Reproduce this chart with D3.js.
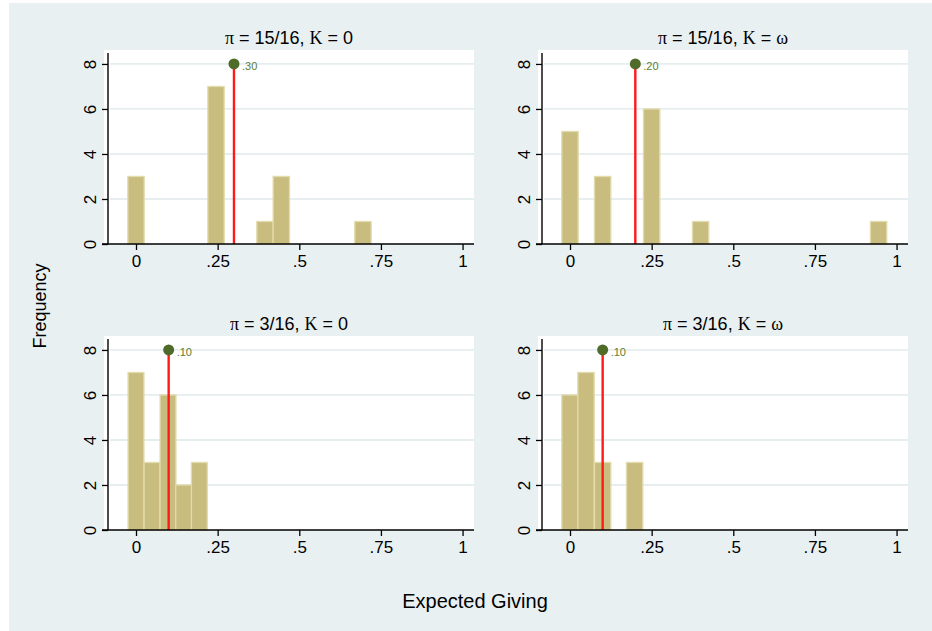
<!DOCTYPE html>
<html>
<head>
<meta charset="utf-8">
<script src="https://cdn.jsdelivr.net/npm/d3@7"></script>
<style>
  body { margin: 0; background: #fff; }
  text { font-family: "Liberation Sans", Arial, sans-serif; }
</style>
</head>
<body>
<svg id="chart"></svg>
<script>
// histogram bins (bin centres) and frequencies
const titles = [
  ["15/16", "0"],
  ["15/16", "ω"],
  ["3/16", "0"],
  ["3/16", "ω"],
];
const bins15K0 = [0, 0.245, 0.395, 0.445, 0.695];
const freq15K0 = [3, 7, 1, 3, 1];
const bins15Kw = [0, 0.1, 0.25, 0.4, 0.945];
const freq15Kw = [5, 3, 6, 1, 1];
const bins3K0 = [0, 0.049, 0.098, 0.146, 0.194];
const freq3K0 = [7, 3, 6, 2, 3];
const bins3Kw = [0, 0.049, 0.1, 0.198];
const freq3Kw = [6, 7, 3, 3];
const binWidths = [0.05, 0.05, 0.0485, 0.05];
const means = [0.3, 0.2, 0.1, 0.1];
const meanLabels = [".30", ".20", ".10", ".10"];
const xTicks = [0, 0.25, 0.5, 0.75, 1];
const xTickLabels = ["0", ".25", ".5", ".75", "1"];
const yTicks = [0, 2, 4, 6, 8];

const binsAll = [bins15K0, bins15Kw, bins3K0, bins3Kw];
const freqAll = [freq15K0, freq15Kw, freq3K0, freq3Kw];

const w = 932;
const h = 631;
const pw = 370; // white plot region
const ph = 194;
const origins = [
  [104, 50],
  [538, 50],
  [104, 336],
  [538, 336],
];

const svg = d3.select("#chart").attr("width", w).attr("height", h);

svg.append("rect").attr("x", 9).attr("y", 3).attr("width", w - 9).attr("height", h - 3)
  .attr("fill", "#e8f0f2");

origins.forEach(([px, py], i) => {
  const x = d3.scaleLinear().domain([-0.098, 1.035]).range([px, px + pw]);
  const y = d3.scaleLinear().domain([0, 8.62]).range([py + ph, py]);
  const g = svg.append("g");

  g.append("rect").attr("x", px).attr("y", py).attr("width", pw).attr("height", ph)
    .attr("fill", "#fff");

  // grid
  g.selectAll(".grid").data(yTicks.slice(1)).enter().append("line")
    .attr("x1", px + 6).attr("x2", px + pw)
    .attr("y1", (d) => y(d)).attr("y2", (d) => y(d))
    .attr("stroke", "#e6eef0").attr("stroke-width", 1.8);

  // bars
  const bw = binWidths[i];
  const data = binsAll[i].map((b, j) => ({ b: b, f: freqAll[i][j] }));
  g.selectAll(".bar").data(data).enter().append("rect")
    .attr("x", (d) => x(d.b - bw / 2))
    .attr("y", (d) => y(d.f))
    .attr("width", (d) => x(d.b + bw / 2) - x(d.b - bw / 2))
    .attr("height", (d) => y(0) - y(d.f))
    .attr("fill", "#c8bd7f")
    .attr("stroke", "#e2dbab")
    .attr("stroke-width", 1.3);

  // mean line + marker
  g.append("line")
    .attr("x1", x(means[i])).attr("x2", x(means[i]))
    .attr("y1", y(0)).attr("y2", y(8))
    .attr("stroke", "#ff1a1a").attr("stroke-width", 2.4);
  g.append("circle").attr("cx", x(means[i])).attr("cy", y(8)).attr("r", 5.5)
    .attr("fill", "#4f6b2a");
  g.append("text").attr("x", x(means[i]) + 8).attr("y", y(8) + 6)
    .attr("font-size", 11).attr("fill", "#5c7d31").text(meanLabels[i]);

  // x axis
  const xAxis = d3.axisBottom(x).tickValues(xTicks)
    .tickFormat((d, k) => xTickLabels[k]).tickSizeOuter(0).tickSize(6).tickPadding(5);
  const xg = g.append("g").attr("transform", `translate(0, ${py + ph})`).call(xAxis);
  xg.select(".domain").attr("d", `M${px - 2},0H${px + pw}`).attr("stroke-width", 1.4);
  xg.selectAll(".tick line").attr("stroke-width", 1.3);
  xg.selectAll("text").attr("font-size", 17).attr("fill", "#000");

  // y axis
  const yAxis = d3.axisLeft(y).tickValues(yTicks).tickSizeOuter(0).tickSize(6);
  const yg = g.append("g").attr("transform", `translate(${px + 4}, 0)`).call(yAxis);
  yg.select(".domain").attr("d", `M0,${py + ph}V${py + 3}`).attr("stroke-width", 1.4);
  yg.selectAll(".tick line").attr("stroke-width", 1.3);
  yg.selectAll("text")
    .attr("transform", "rotate(-90)")
    .attr("x", 0).attr("y", -12).attr("dy", 0)
    .attr("text-anchor", "middle")
    .attr("font-size", 17).attr("fill", "#000");

  // panel title
  const t = g.append("text").attr("x", px + pw / 2).attr("y", py - 6)
    .attr("text-anchor", "middle").attr("font-size", 18);
  t.append("tspan").attr("font-family", "Liberation Serif, serif").text("π");
  t.append("tspan").text(` = ${titles[i][0]}, `);
  t.append("tspan").attr("font-family", "Liberation Serif, serif").text("K");
  t.append("tspan").text(" = ");
  t.append("tspan")
    .attr("font-family", titles[i][1] === "ω" ? "Liberation Serif, serif" : null)
    .text(titles[i][1]);
});

svg.append("text")
  .attr("transform", "translate(46, 306) rotate(-90)")
  .attr("text-anchor", "middle").attr("font-size", 18).text("Frequency");

svg.append("text")
  .attr("x", 475).attr("y", 608)
  .attr("text-anchor", "middle").attr("font-size", 20).text("Expected Giving");
</script>
</body>
</html>
